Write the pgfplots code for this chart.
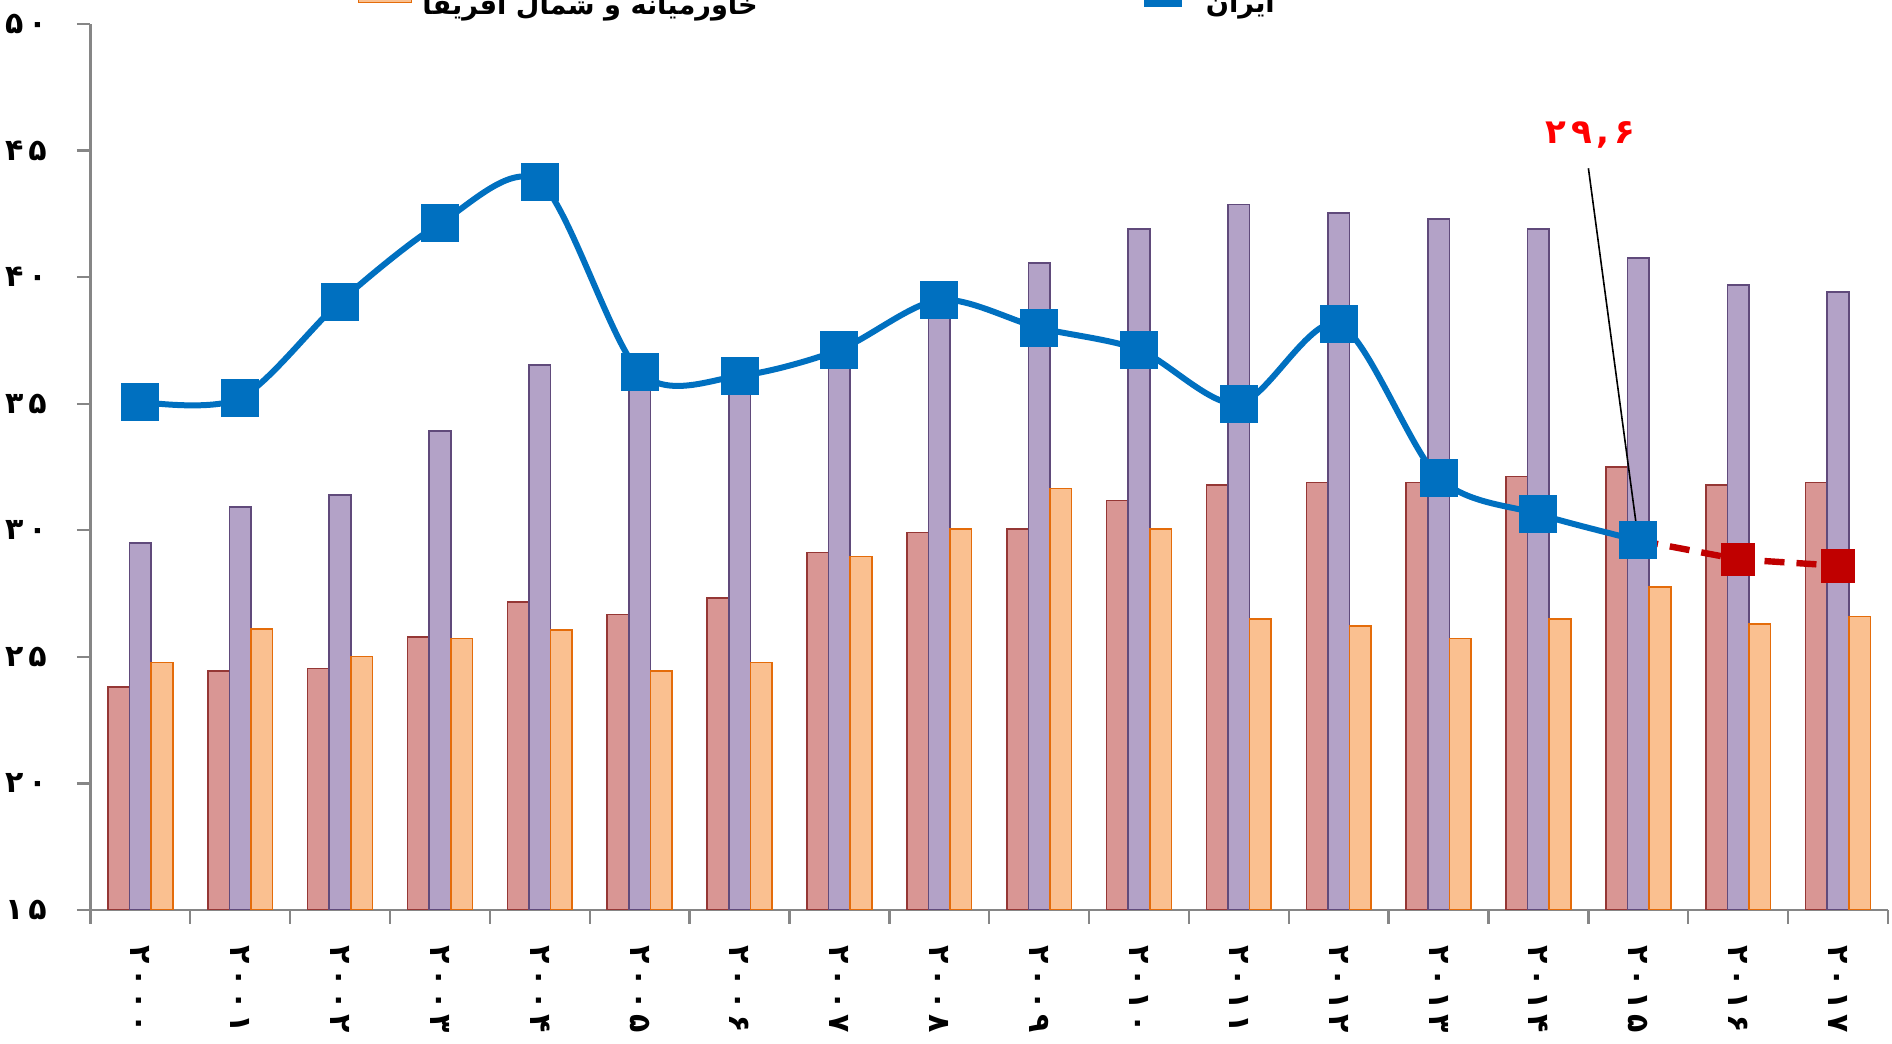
\documentclass[border=0pt]{standalone}
\usepackage{pgfplots}
\pgfplotsset{compat=1.18}
\usepackage{fontspec}
\newfontfamily\fa[Script=Arabic]{DejaVu Sans}
\TeXXeTstate=1

\definecolor{barred}{HTML}{D99694}
\definecolor{barredline}{HTML}{953735}
\definecolor{barpurple}{HTML}{B3A2C7}
\definecolor{barpurpleline}{HTML}{604A7B}
\definecolor{barorange}{HTML}{FAC090}
\definecolor{barorangeline}{HTML}{E46C0A}
\definecolor{lineblue}{HTML}{0070C0}
\definecolor{linered}{HTML}{C00000}
\definecolor{axisgray}{HTML}{868686}

\newcommand\gap{\kern1.2pt}
\newcommand\tickfont{\fa\bfseries\fontsize{7.5}{8}\selectfont}

\pgfplotsset{
  swatch legend/.style={legend image code/.code={\draw[##1] (0pt,0.6pt) rectangle (13.25pt,7pt);}},
  marker legend/.style={legend image code/.code={\draw[##1, mark repeat=2, mark phase=2] plot coordinates {(0pt,4.1pt) (7.5pt,4.1pt) (15pt,4.1pt)};}},
}

\begin{document}
\begin{tikzpicture}
\useasboundingbox (0,0) rectangle (473pt,261pt);
\clip (0,0) rectangle (473pt,261pt);
\begin{axis}[
  at={(22.6pt,33.5pt)}, anchor=south west,
  scale only axis, width=449.4pt, height=221.5pt,
  xmin=-0.5, xmax=17.5, ymin=15, ymax=50,
  axis lines*=left,
  axis line style={draw=axisgray, line width=0.6pt},
  tick align=outside,
  major tick length=3.4pt, minor tick length=3.4pt,
  tick style={draw=axisgray, line width=0.6pt},
  ytick={15,20,...,50},
  yticklabels={{۱\gap ۵},{۲\gap ۰},{۲\gap ۵},{۳\gap ۰},{۳\gap ۵},{۴\gap ۰},{۴\gap ۵},{۵\gap ۰}},
  y tick label style={font=\tickfont, anchor=east},
  yticklabel shift=4pt,
  xtick={0,...,17},
  major x tick style={draw=none},
  minor xtick={-0.5,0.5,...,17.5},
  xticklabels={
    {۲\gap ۰\gap ۰\gap ۰},{۲\gap ۰\gap ۰\gap ۱},{۲\gap ۰\gap ۰\gap ۲},{۲\gap ۰\gap ۰\gap ۳},
    {۲\gap ۰\gap ۰\gap ۴},{۲\gap ۰\gap ۰\gap ۵},{۲\gap ۰\gap ۰\gap ۶},{۲\gap ۰\gap ۰\gap ۷},
    {۲\gap ۰\gap ۰\gap ۸},{۲\gap ۰\gap ۰\gap ۹},{۲\gap ۰\gap ۱\gap ۰},{۲\gap ۰\gap ۱\gap ۱},
    {۲\gap ۰\gap ۱\gap ۲},{۲\gap ۰\gap ۱\gap ۳},{۲\gap ۰\gap ۱\gap ۴},{۲\gap ۰\gap ۱\gap ۵},
    {۲\gap ۰\gap ۱\gap ۶},{۲\gap ۰\gap ۱\gap ۷}},
  x tick label style={font=\tickfont, rotate=-90, anchor=west},
  xticklabel shift=2pt,
  legend columns=2,
  legend style={draw=none, fill=none, inner sep=0pt,
    at={(0.1483,1.031)}, anchor=west,
    nodes={inner sep=0pt},
    font=\fa\bfseries\fontsize{6.8}{8}\selectfont,
    /tikz/every odd column/.append style={column sep=2.5pt},
    /tikz/every even column/.append style={column sep=93pt}},
]
% red bars
\addplot[ybar, bar width=5.4pt, bar shift=-5.4pt, fill=barred, draw=barredline, line width=0.4pt, forget plot]
  coordinates {(0,23.82) (1,24.44) (2,24.54) (3,25.78) (4,27.16) (5,26.68) (6,27.32) (7,29.12) (8,29.91)
               (9,30.06) (10,31.17) (11,31.80) (12,31.88) (13,31.88) (14,32.12) (15,32.50) (16,31.80) (17,31.89)};
% purple bars
\addplot[ybar, bar width=5.4pt, bar shift=0pt, fill=barpurple, draw=barpurpleline, line width=0.4pt, forget plot]
  coordinates {(0,29.50) (1,30.93) (2,31.40) (3,33.93) (4,36.53) (5,36.0) (6,35.8) (7,36.8) (8,38.4)
               (9,40.57) (10,41.90) (11,42.87) (12,42.54) (13,42.30) (14,41.90) (15,40.75) (16,39.70) (17,39.42)};
% orange bars
\addplot[ybar, bar width=5.4pt, bar shift=5.4pt, fill=barorange, draw=barorangeline, line width=0.4pt, swatch legend]
  coordinates {(0,24.78) (1,26.11) (2,25.01) (3,25.73) (4,26.06) (5,24.44) (6,24.78) (7,28.96) (8,30.06)
               (9,31.65) (10,30.06) (11,26.49) (12,26.21) (13,25.73) (14,26.49) (15,27.77) (16,26.30) (17,26.59)};
\addlegendentry{\beginR خاورمیانه و شمال آفریقا\endR}
% forecast
\addplot[linered, line width=1.6pt, dash pattern=on 5pt off 3pt, mark=square*, mark size=3.4pt,
  mark options={solid, rounded corners=0.8pt}, forget plot]
  coordinates {(15,29.6) (16,28.85) (17,28.6)};
% Iran
\addplot[lineblue, smooth, line width=1.5pt, mark=square*, mark size=4pt,
  mark options={rounded corners=1pt}, marker legend]
  coordinates {(0,35.08) (1,35.22) (2,39.03) (3,42.12) (4,43.77) (5,36.25) (6,36.10) (7,37.13) (8,39.10)
               (9,38.0) (10,37.13) (11,35.0) (12,38.15) (13,32.08) (14,30.64) (15,29.6)};
\addlegendentry{\beginR ایران\endR}
\draw[black, line width=0.4pt] (axis cs:14.5,44.3) -- (axis cs:15.0,29.6);
\node[text=red, font=\fa\bfseries\fontsize{8.5}{9}\selectfont] at (axis cs:14.52,45.6) {۲\gap ۹\gap ,\gap ۶};
\end{axis}
\end{tikzpicture}
\end{document}
